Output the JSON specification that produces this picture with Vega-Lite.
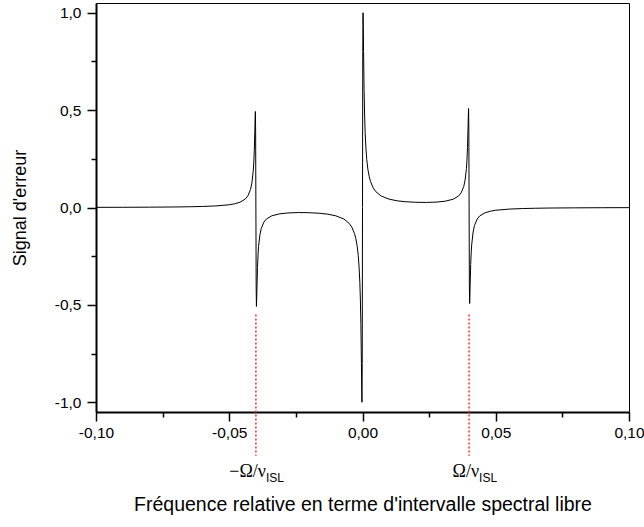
{
  "$schema": "https://vega.github.io/schema/vega-lite/v6.json",
  "autosize": {"type": "none"},
  "width": 533,
  "height": 409,
  "padding": {"left": 96, "top": 3, "right": 15, "bottom": 115},
  "background": "white",
  "config": {
    "view": {"stroke": "black", "strokeWidth": 1},
    "font": "Liberation Sans",
    "axis": {
      "grid": false,
      "domainColor": "black",
      "domainWidth": 2,
      "tickColor": "black",
      "tickWidth": 1.5,
      "labelColor": "black",
      "labelFont": "Liberation Sans",
      "labelFontSize": 15.5,
      "titleFont": "Liberation Sans",
      "titleFontSize": 18,
      "titleFontWeight": "normal",
      "titleColor": "black"
    }
  },
  "datasets": {
    "curve": [
      {"x": -0.1, "y": 0.0008}, {"x": -0.09, "y": 0.0011}, {"x": -0.08, "y": 0.0017}, {"x": -0.07, "y": 0.0028},
      {"x": -0.065, "y": 0.0038}, {"x": -0.06, "y": 0.0053}, {"x": -0.055, "y": 0.0082}, {"x": -0.05, "y": 0.014},
      {"x": -0.048, "y": 0.019}, {"x": -0.046, "y": 0.027}, {"x": -0.044, "y": 0.043}, {"x": -0.043, "y": 0.06},
      {"x": -0.042, "y": 0.093}, {"x": -0.0415, "y": 0.126}, {"x": -0.041, "y": 0.188}, {"x": -0.0408, "y": 0.228},
      {"x": -0.0406, "y": 0.293}, {"x": -0.0404, "y": 0.393}, {"x": -0.0403, "y": 0.454}, {"x": -0.0402, "y": 0.493},
      {"x": -0.0401, "y": 0.393}, {"x": -0.04, "y": -0.0075}, {"x": -0.0399, "y": -0.408}, {"x": -0.0398, "y": -0.508},
      {"x": -0.0397, "y": -0.469}, {"x": -0.0396, "y": -0.408}, {"x": -0.0394, "y": -0.308}, {"x": -0.0392, "y": -0.243},
      {"x": -0.039, "y": -0.2}, {"x": -0.0385, "y": -0.141}, {"x": -0.038, "y": -0.108}, {"x": -0.037, "y": -0.0749},
      {"x": -0.036, "y": -0.0585}, {"x": -0.034, "y": -0.0424}, {"x": -0.031, "y": -0.0323}, {"x": -0.028, "y": -0.028},
      {"x": -0.024, "y": -0.026}, {"x": -0.02, "y": -0.0267}, {"x": -0.016, "y": -0.0298}, {"x": -0.013, "y": -0.0344},
      {"x": -0.01, "y": -0.0427}, {"x": -0.007, "y": -0.0589}, {"x": -0.005, "y": -0.0813}, {"x": -0.004, "y": -0.101},
      {"x": -0.003, "y": -0.134}, {"x": -0.0025, "y": -0.159}, {"x": -0.002, "y": -0.198}, {"x": -0.0016, "y": -0.246},
      {"x": -0.0013, "y": -0.301}, {"x": -0.001, "y": -0.385}, {"x": -0.0008, "y": -0.47}, {"x": -0.0006, "y": -0.6},
      {"x": -0.0004, "y": -0.8}, {"x": -0.0003, "y": -0.923}, {"x": -0.0002, "y": -1.0}, {"x": -0.0001, "y": -0.8},
      {"x": 0, "y": 0},
      {"x": 0.0001, "y": 0.8}, {"x": 0.0002, "y": 1.0}, {"x": 0.0003, "y": 0.923}, {"x": 0.0004, "y": 0.8},
      {"x": 0.0006, "y": 0.6}, {"x": 0.0008, "y": 0.47}, {"x": 0.001, "y": 0.385}, {"x": 0.0013, "y": 0.301},
      {"x": 0.0016, "y": 0.246}, {"x": 0.002, "y": 0.198}, {"x": 0.0025, "y": 0.159}, {"x": 0.003, "y": 0.134},
      {"x": 0.004, "y": 0.101}, {"x": 0.005, "y": 0.0813}, {"x": 0.007, "y": 0.0589}, {"x": 0.01, "y": 0.0427},
      {"x": 0.013, "y": 0.0344}, {"x": 0.016, "y": 0.0298}, {"x": 0.02, "y": 0.0267}, {"x": 0.024, "y": 0.026},
      {"x": 0.028, "y": 0.028}, {"x": 0.031, "y": 0.0323}, {"x": 0.034, "y": 0.0424}, {"x": 0.036, "y": 0.0585},
      {"x": 0.037, "y": 0.0749}, {"x": 0.038, "y": 0.108}, {"x": 0.0385, "y": 0.141}, {"x": 0.039, "y": 0.2},
      {"x": 0.0392, "y": 0.243}, {"x": 0.0394, "y": 0.308}, {"x": 0.0396, "y": 0.408}, {"x": 0.0397, "y": 0.469},
      {"x": 0.0398, "y": 0.508}, {"x": 0.0399, "y": 0.408}, {"x": 0.04, "y": 0.0075}, {"x": 0.0401, "y": -0.393},
      {"x": 0.0402, "y": -0.493}, {"x": 0.0403, "y": -0.454}, {"x": 0.0404, "y": -0.393}, {"x": 0.0406, "y": -0.293},
      {"x": 0.0408, "y": -0.228}, {"x": 0.041, "y": -0.188}, {"x": 0.0415, "y": -0.126}, {"x": 0.042, "y": -0.093},
      {"x": 0.043, "y": -0.06}, {"x": 0.044, "y": -0.043}, {"x": 0.046, "y": -0.027}, {"x": 0.048, "y": -0.019},
      {"x": 0.05, "y": -0.014}, {"x": 0.055, "y": -0.0082}, {"x": 0.06, "y": -0.0053}, {"x": 0.065, "y": -0.0038},
      {"x": 0.07, "y": -0.0028}, {"x": 0.08, "y": -0.0017}, {"x": 0.09, "y": -0.0011}, {"x": 0.1, "y": -0.0008}
    ],
    "marks": [
      {"x": -0.04, "main": "−Ω/ν", "sub": "ISL"},
      {"x": 0.04, "main": "Ω/ν", "sub": "ISL"}
    ]
  },
  "layer": [
    {
      "data": {"name": "curve"},
      "mark": {"type": "line", "color": "black", "strokeWidth": 1},
      "encoding": {
        "x": {
          "field": "x", "type": "quantitative",
          "scale": {"domain": [-0.1, 0.1], "nice": false, "zero": false},
          "axis": {
            "title": "Fréquence relative en terme d'intervalle spectral libre",
            "titleFontSize": 19.5,
            "values": [-0.1, -0.075, -0.05, -0.025, 0, 0.025, 0.05, 0.075, 0.1],
            "labelExpr": "round(datum.value*40)%2===0 ? replace(replace(format(datum.value, '.2f'), '.', ','), '−', '-') : ''",
            "tickSize": {"condition": {"test": "round(datum.value*40)%2===0", "value": 9}, "value": 5},
            "labelPadding": 4,
            "labelFlush": false,
            "labelOverlap": false,
            "titleX": 266.5,
            "titleY": 98,
            "titleBaseline": "alphabetic"
          }
        },
        "y": {
          "field": "y", "type": "quantitative",
          "scale": {"domain": [-1.05, 1.05], "nice": false, "zero": false},
          "axis": {
            "title": "Signal d'erreur",
            "values": [-1, -0.75, -0.5, -0.25, 0, 0.25, 0.5, 0.75, 1],
            "labelExpr": "round(datum.value*4)%2===0 ? replace(replace(format(datum.value, '.1f'), '.', ','), '−', '-') : ''",
            "tickSize": {"condition": {"test": "round(datum.value*4)%2===0", "value": 9}, "value": 5},
            "labelPadding": 6,
            "labelOverlap": false,
            "titleX": -76,
            "titleY": 204.5,
            "titleBaseline": "middle"
          }
        }
      }
    },
    {
      "data": {"name": "marks"},
      "mark": {"type": "rule", "color": "#ff3030", "strokeWidth": 1.5, "strokeDash": [2, 2], "clip": false},
      "encoding": {
        "x": {"field": "x", "type": "quantitative"},
        "y": {"datum": -0.55},
        "y2": {"datum": -1.275}
      }
    },
    {
      "data": {"name": "marks"},
      "mark": {"type": "text", "align": "right", "baseline": "alphabetic", "dx": 10, "fontSize": 18, "font": "Liberation Serif", "color": "black", "clip": false},
      "encoding": {
        "x": {"field": "x", "type": "quantitative"},
        "y": {"datum": -1.385},
        "text": {"field": "main"}
      }
    },
    {
      "data": {"name": "marks"},
      "mark": {"type": "text", "align": "left", "baseline": "alphabetic", "dx": 10, "fontSize": 12, "font": "Liberation Sans", "color": "black", "clip": false},
      "encoding": {
        "x": {"field": "x", "type": "quantitative"},
        "y": {"datum": -1.41},
        "text": {"field": "sub"}
      }
    }
  ]
}
